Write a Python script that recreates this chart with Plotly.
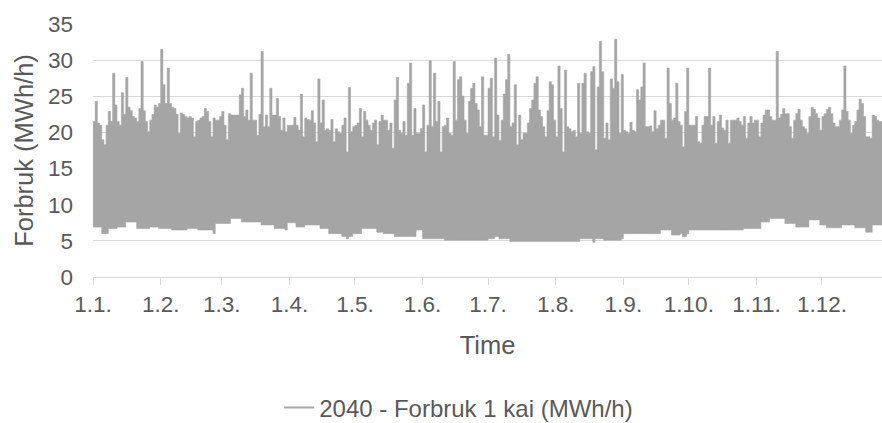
import plotly.graph_objects as go
from datetime import datetime, timedelta

# Daily maximum consumption (MWh/h), per month
jan_high = [21.5, 24.3, 21.3, 21.0, 19.0, 18.3, 21.0, 22.9, 21.5, 28.2, 23.8, 21.5, 21.0, 25.5, 22.5, 27.6,
            23.5, 23.0, 22.2, 22.0, 21.5, 23.3, 29.8, 23.0, 21.5, 20.1, 21.7, 22.5, 23.8, 23.5, 24.0]
feb_high = [31.5, 26.6, 24.0, 28.9, 24.0, 23.5, 23.3, 22.5, 19.9, 22.7, 22.5, 22.2, 22.0, 22.2, 22.0, 19.4,
            21.5, 21.7, 22.0, 22.2, 23.3, 22.9, 21.5, 19.4, 22.0, 21.7, 21.7, 22.2]
mar_high = [22.9, 21.0, 19.0, 22.6, 22.4, 22.4, 22.4, 22.4, 25.2, 26.1, 22.2, 23.1, 21.7, 28.2, 21.7, 21.7,
            19.6, 22.5, 31.2, 20.8, 22.4, 20.8, 26.1, 22.4, 22.4, 24.7, 22.2, 20.3, 22.0, 20.1, 21.0]
apr_high = [21.0, 21.0, 22.1, 21.0, 20.3, 25.3, 19.4, 22.0, 21.8, 21.7, 23.0, 21.3, 18.7, 27.4, 21.3, 24.5,
            20.3, 20.5, 20.3, 21.8, 18.7, 20.5, 20.1, 19.9, 21.0, 22.0, 17.3, 26.2, 20.1, 20.8]
may_high = [21.0, 21.3, 23.3, 19.4, 22.9, 21.7, 21.0, 20.3, 21.3, 21.7, 18.3, 21.5, 22.4, 21.7, 21.7, 20.3,
            21.3, 17.8, 24.5, 27.6, 20.3, 19.9, 21.5, 19.6, 26.8, 29.6, 19.6, 23.3, 19.9, 19.9, 20.5]
jun_high = [23.8, 17.3, 21.0, 29.9, 20.8, 28.2, 21.5, 24.3, 17.3, 20.8, 21.0, 22.0, 19.9, 19.6, 29.8, 21.7,
            27.3, 27.7, 25.0, 21.7, 19.9, 24.3, 26.1, 26.8, 24.0, 23.1, 20.8, 27.7, 19.6, 19.6]
jul_high = [26.1, 27.5, 19.4, 30.3, 22.4, 18.9, 21.7, 25.3, 27.3, 30.8, 20.8, 21.3, 26.6, 18.3, 22.4, 19.0,
            19.9, 19.9, 21.3, 23.3, 24.5, 26.8, 27.7, 23.1, 22.2, 20.8, 19.4, 23.0, 27.0, 26.6, 21.7]
aug_high = [19.4, 29.2, 23.3, 17.3, 28.6, 20.8, 20.5, 20.1, 20.3, 19.4, 26.8, 19.9, 26.8, 28.2, 20.1, 19.9,
            28.4, 29.1, 17.6, 26.3, 32.6, 28.4, 19.2, 21.3, 19.0, 27.4, 26.1, 32.9, 27.0, 19.9, 28.0]
sep_high = [20.3, 20.1, 19.9, 21.4, 20.3, 20.1, 25.9, 24.5, 26.3, 29.6, 20.8, 20.8, 20.9, 20.1, 23.0, 20.5,
            21.0, 21.7, 21.7, 19.2, 28.9, 24.0, 21.7, 22.0, 26.8, 21.5, 21.0, 18.0, 22.9, 28.9]
oct_high = [21.0, 21.0, 21.0, 22.2, 18.7, 18.5, 21.0, 22.2, 22.2, 28.9, 21.0, 22.2, 18.5, 21.5, 22.4, 20.6,
            20.3, 21.7, 18.5, 21.7, 21.7, 21.7, 22.0, 21.5, 21.0, 22.2, 19.2, 21.3, 22.2, 21.3, 21.7]
nov_high = [21.7, 19.4, 21.3, 22.4, 23.1, 23.1, 22.2, 21.7, 21.7, 31.2, 22.0, 22.5, 23.3, 22.6, 22.6, 20.8,
            19.2, 21.7, 22.6, 23.2, 21.7, 20.8, 20.5, 19.9, 22.2, 23.5, 23.2, 22.6, 22.0, 20.3]
dec_high = [22.2, 22.6, 23.2, 23.5, 22.6, 21.3, 20.8, 20.8, 21.7, 23.1, 29.2, 22.9, 21.7, 19.9, 21.0, 21.5,
            23.1, 24.6, 24.0, 22.2, 19.4, 19.4, 19.2, 22.4, 22.2, 21.7, 21.5, 21.5, 22.0, 21.5, 21.0]

# Daily minimum consumption (MWh/h), per month
jan_low = [6.9, 6.9, 6.9, 6.9, 6.0, 6.0, 6.0, 6.7, 6.7, 6.7, 6.7, 6.9, 6.9, 6.9, 6.9, 7.6,
           7.6, 7.6, 7.6, 7.6, 6.7, 6.7, 6.7, 6.7, 6.7, 6.7, 6.9, 6.9, 6.9, 6.9, 6.7]
feb_low = [6.7, 6.7, 6.7, 6.7, 6.7, 6.5, 6.5, 6.5, 6.5, 6.5, 6.5, 6.5, 6.7, 6.7, 6.7, 6.7,
           6.7, 6.5, 6.5, 6.5, 6.5, 6.5, 6.5, 6.5, 6.0, 7.4, 7.4, 7.4]
mar_low = [7.4, 7.4, 7.4, 7.4, 8.1, 8.1, 8.1, 8.1, 8.1, 7.6, 7.6, 7.6, 7.6, 7.6, 7.6, 7.6,
           7.6, 7.6, 7.2, 7.2, 7.2, 7.2, 7.2, 7.2, 6.7, 6.7, 6.7, 6.7, 6.7, 6.5, 7.5]
apr_low = [7.5, 7.5, 7.5, 6.9, 6.9, 6.9, 6.9, 7.2, 7.2, 7.2, 7.2, 7.2, 7.2, 7.2, 6.7, 6.7,
           6.7, 6.7, 6.0, 6.0, 6.0, 6.0, 6.0, 6.0, 5.6, 5.6, 5.3, 5.6, 5.6, 6.0]
may_low = [6.0, 6.0, 6.0, 6.7, 6.7, 6.7, 6.7, 6.7, 6.7, 6.7, 6.2, 6.2, 6.2, 6.0, 6.0, 6.0,
           6.0, 6.0, 5.6, 5.6, 5.6, 5.6, 5.6, 5.6, 5.6, 5.6, 5.6, 5.6, 6.5, 6.5, 6.5]
jun_low = [5.3, 5.3, 5.3, 5.3, 5.3, 5.3, 5.3, 5.3, 5.3, 5.3, 5.1, 5.1, 5.1, 5.1, 5.1, 5.1,
           5.1, 5.1, 5.1, 5.1, 5.1, 5.1, 5.1, 5.1, 5.1, 5.1, 5.1, 5.1, 5.1, 5.1]
jul_low = [5.3, 5.3, 5.3, 5.6, 5.6, 5.3, 5.3, 5.3, 5.3, 5.3, 4.9, 4.9, 4.9, 4.9, 4.9, 4.9,
           4.9, 4.9, 4.9, 4.9, 4.9, 4.9, 4.9, 4.9, 4.9, 4.9, 4.9, 4.9, 4.9, 4.9, 4.9]
aug_low = [4.9, 4.9, 4.9, 4.9, 4.9, 4.9, 4.9, 4.9, 4.9, 4.9, 4.9, 5.3, 5.3, 5.3, 5.3, 5.3,
           5.3, 4.8, 5.3, 5.3, 5.3, 5.3, 5.1, 5.1, 5.1, 5.1, 5.1, 5.1, 5.1, 5.1, 5.3]
sep_low = [6.0, 6.0, 6.0, 6.0, 6.0, 6.0, 6.0, 6.0, 6.0, 6.0, 6.0, 6.0, 6.0, 6.0, 6.0, 6.0,
           6.0, 6.5, 6.5, 6.5, 6.5, 6.5, 5.8, 5.8, 5.8, 5.8, 6.0, 5.6, 5.6, 6.0]
oct_low = [6.5, 6.5, 6.5, 6.5, 6.5, 6.5, 6.5, 6.5, 6.5, 6.5, 6.5, 6.5, 6.5, 6.5, 6.5, 6.5,
           6.5, 6.5, 6.5, 6.5, 6.5, 6.5, 6.5, 6.5, 6.5, 6.7, 6.7, 6.7, 6.7, 6.7, 6.7]
nov_low = [6.7, 6.7, 7.6, 7.6, 7.6, 7.6, 8.1, 8.1, 8.1, 8.1, 8.1, 8.1, 8.1, 7.4, 7.4, 7.4,
           7.4, 7.4, 6.9, 6.9, 6.9, 6.9, 6.9, 6.9, 7.9, 7.9, 7.9, 7.9, 7.9, 7.2]
dec_low = [7.2, 7.2, 6.8, 6.8, 6.8, 6.8, 6.8, 6.8, 6.8, 7.2, 7.2, 7.2, 7.2, 7.2, 7.2, 6.8,
           6.8, 6.8, 6.8, 6.8, 6.2, 6.2, 6.2, 7.2, 7.2, 7.2, 7.2, 7.2, 7.2, 7.2, 7.2]

series_name = "2040 - Forbruk 1 kai (MWh/h)"
x_title = "Time"
y_title = "Forbruk (MWh/h)"

high = (jan_high + feb_high + mar_high + apr_high + may_high + jun_high +
        jul_high + aug_high + sep_high + oct_high + nov_high + dec_high)
low = (jan_low + feb_low + mar_low + apr_low + may_low + jun_low +
       jul_low + aug_low + sep_low + oct_low + nov_low + dec_low)

start = datetime(2023, 1, 1)
dates = [start + timedelta(days=i) for i in range(len(high) + 1)]
hi = high + [high[-1]]
lo = low + [low[-1]]

GRAY = "#A5A5A5"
TEXT = "#595959"
GRID = "#D9D9D9"
FONT = "Liberation Sans, Arial, sans-serif"

fig = go.Figure()
fig.add_trace(go.Scatter(x=dates, y=lo, mode="lines", line=dict(color=GRAY, width=0.6, shape="hv"),
                         showlegend=False, hoverinfo="skip"))
fig.add_trace(go.Scatter(x=dates, y=hi, mode="lines", line=dict(color=GRAY, width=0.6, shape="hv"),
                         fill="tonexty", fillcolor=GRAY, showlegend=False, name=series_name))
fig.add_trace(go.Scatter(x=[None], y=[None], mode="lines", line=dict(color=GRAY, width=2),
                         name=series_name, showlegend=True))

end = start + timedelta(days=789 / 2.1826)

fig.update_layout(
    width=882, height=423,
    margin=dict(l=93, r=0, t=24, b=146, autoexpand=False),
    paper_bgcolor="white", plot_bgcolor="white",
    font=dict(family=FONT, color=TEXT, size=22),
    showlegend=True,
    legend=dict(orientation="h", x=0.236, xanchor="left",
                yref="container", y=15 / 423, yanchor="middle",
                font=dict(size=24, color=TEXT), bgcolor="rgba(0,0,0,0)"),
    xaxis=dict(
        type="date", range=[start, end], tick0="2023-01-01", dtick="M1",
        tickformat="%-d.%-m.", ticks="outside", ticklen=7, tickcolor=GRID, tickwidth=1,
        showline=True, linecolor=GRID, linewidth=1, showgrid=False, zeroline=False,
        tickfont=dict(size=22.5, color=TEXT), automargin=False,
        title=dict(text=x_title, font=dict(size=25.5, color=TEXT), standoff=20),
    ),
    yaxis=dict(
        range=[0, 35], dtick=5, showgrid=True, gridcolor=GRID, gridwidth=1,
        zeroline=False, showline=False, ticks="", ticklabelstandoff=19,
        tickfont=dict(size=22.5, color=TEXT), automargin=False,
        title=dict(text=y_title, font=dict(size=25.5, color=TEXT), standoff=7),
    ),
)

fig.write_html("out.html")
